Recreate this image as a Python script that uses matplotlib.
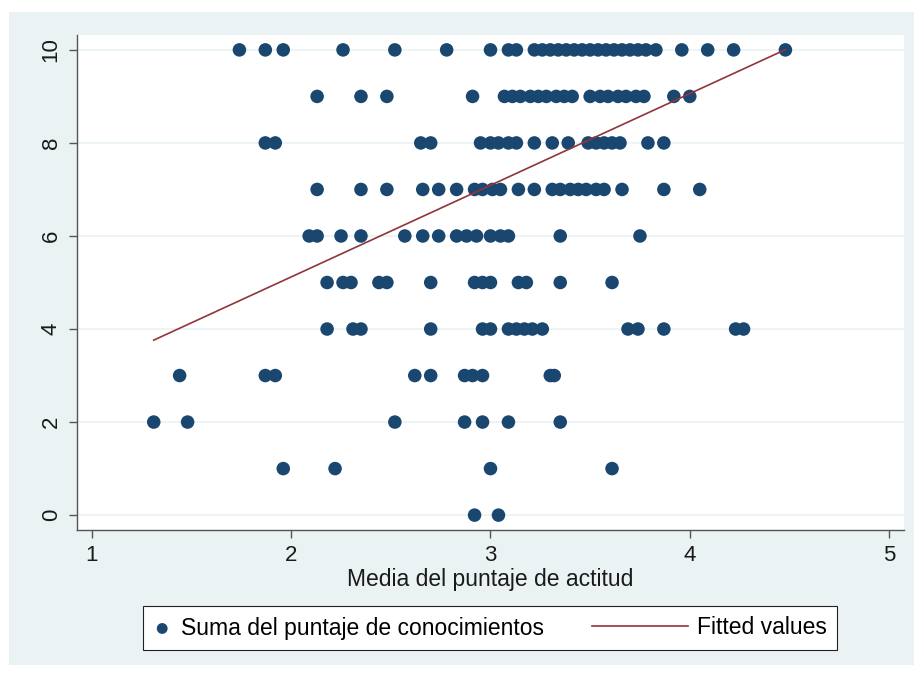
import matplotlib.pyplot as plt
import matplotlib.patches as mpatches
from matplotlib.lines import Line2D
from matplotlib.legend_handler import HandlerBase
import numpy as np

plt.rcParams['font.family'] = ['Liberation Sans', 'DejaVu Sans']

# x values (media del puntaje de actitud) for each knowledge score row
row_10 = [1.74, 1.87, 1.96, 2.26, 2.52, 2.78, 3.00, 3.09, 3.13,
          3.22, 3.26, 3.30, 3.34, 3.38, 3.42, 3.46, 3.50, 3.54, 3.58,
          3.62, 3.66, 3.70, 3.74, 3.78, 3.83, 3.96, 4.09, 4.22, 4.48]
row_9 = [2.13, 2.35, 2.48, 2.91, 3.07, 3.11, 3.15, 3.20, 3.24, 3.28,
         3.33, 3.37, 3.41, 3.50, 3.55, 3.59, 3.64, 3.68, 3.73, 3.77,
         3.92, 4.00]
row_8 = [1.87, 1.92, 2.65, 2.70, 2.95, 3.00, 3.04, 3.09, 3.13, 3.22,
         3.31, 3.39, 3.49, 3.53, 3.57, 3.61, 3.65, 3.79, 3.87]
row_7 = [2.13, 2.35, 2.48, 2.66, 2.74, 2.83, 2.92, 2.96, 3.01, 3.05,
         3.14, 3.22, 3.31, 3.35, 3.40, 3.44, 3.48, 3.53, 3.57, 3.66,
         3.87, 4.05]
row_6 = [2.09, 2.13, 2.25, 2.35, 2.57, 2.66, 2.74, 2.83, 2.88, 2.93,
         3.00, 3.05, 3.09, 3.35, 3.75]
row_5 = [2.18, 2.26, 2.30, 2.44, 2.48, 2.70, 2.92, 2.96, 3.00, 3.14,
         3.18, 3.35, 3.61]
row_4 = [2.18, 2.31, 2.35, 2.70, 2.96, 3.00, 3.09, 3.13, 3.17, 3.21,
         3.26, 3.69, 3.74, 3.87, 4.23, 4.27]
row_3 = [1.44, 1.87, 1.92, 2.62, 2.70, 2.87, 2.91, 2.96, 3.30, 3.32]
row_2 = [1.31, 1.48, 2.52, 2.87, 2.96, 3.09, 3.35]
row_1 = [1.96, 2.22, 3.00, 3.61]
row_0 = [2.92, 3.04]

# fitted values line (many points overlap, so not refit)
fit_intercept = 1.18
fit_slope = 1.97

rows = [row_0, row_1, row_2, row_3, row_4, row_5, row_6, row_7, row_8, row_9, row_10]
x = np.concatenate([np.array(r) for r in rows])
y = np.concatenate([np.full(len(r), float(k)) for k, r in enumerate(rows)])

navy = '#1A476F'
maroon = '#90353B'
bg = '#EAF2F3'
txt = '#1a1a1a'


class LongLine(HandlerBase):
    # legend line that reaches further left than the handle box
    def create_artists(self, legend, orig_handle, xdescent, ydescent,
                       width, height, fontsize, trans):
        ext = 3.4 * fontsize
        yy = height / 2 - ydescent
        ln = Line2D([-xdescent - ext, -xdescent + width], [yy, yy],
                    color=orig_handle.get_color(), lw=orig_handle.get_linewidth())
        ln.set_transform(trans)
        return [ln]


fig = plt.figure(figsize=(9.14, 6.73), dpi=100)
fig.patch.set_facecolor('white')
fig.patches.append(mpatches.Rectangle((9 / 914, 1 - 665 / 673), 905 / 914, 653 / 673,
                                      transform=fig.transFigure, facecolor=bg,
                                      edgecolor='none', zorder=-10))

ax = fig.add_axes([77 / 914, 1 - 530 / 673, 827 / 914, 495 / 673])
ax.set_facecolor('white')

sc = ax.scatter(x, y, s=95, color=navy, edgecolors='none', zorder=3)

xs = np.array([x.min(), x.max()])
fit_line, = ax.plot(xs, fit_intercept + fit_slope * xs, color=maroon, lw=1.2, zorder=4)

ax.set_xlim(0.925, 5.075)
ax.set_ylim(-0.32, 10.32)
ax.set_xticks([1, 2, 3, 4, 5])
ax.set_yticks(range(0, 11, 2))
ax.grid(axis='y', color=bg, lw=1.2, zorder=0)
ax.set_axisbelow(True)

for s in ['top', 'right']:
    ax.spines[s].set_visible(False)
for s in ['left', 'bottom']:
    ax.spines[s].set_color('#555555')
    ax.spines[s].set_linewidth(1.0)

ax.tick_params(axis='both', direction='out', length=6, width=1, color='#555555',
               labelsize=16, labelcolor=txt, pad=5)
for lab in ax.get_yticklabels():
    lab.set_rotation(90)
    lab.set_va('center')
ax.set_xlabel('Media del puntaje de actitud', fontsize=16.5, color=txt, labelpad=1)

leg = fig.legend([sc, fit_line], ['Suma del puntaje de conocimientos', 'Fitted values'],
                 handler_map={fit_line: LongLine()},
                 loc='center', bbox_to_anchor=(490 / 914, 1 - 628 / 673), ncol=2,
                 fontsize=16.5, frameon=True, fancybox=False, edgecolor='#222222',
                 framealpha=1, borderpad=0.45, columnspacing=5.5, handlelength=0.8,
                 markerscale=0.8, handletextpad=0.4, scatterpoints=1)
leg.get_frame().set_linewidth(0.8)

fig.savefig('out.png', dpi=100, facecolor=fig.get_facecolor())
